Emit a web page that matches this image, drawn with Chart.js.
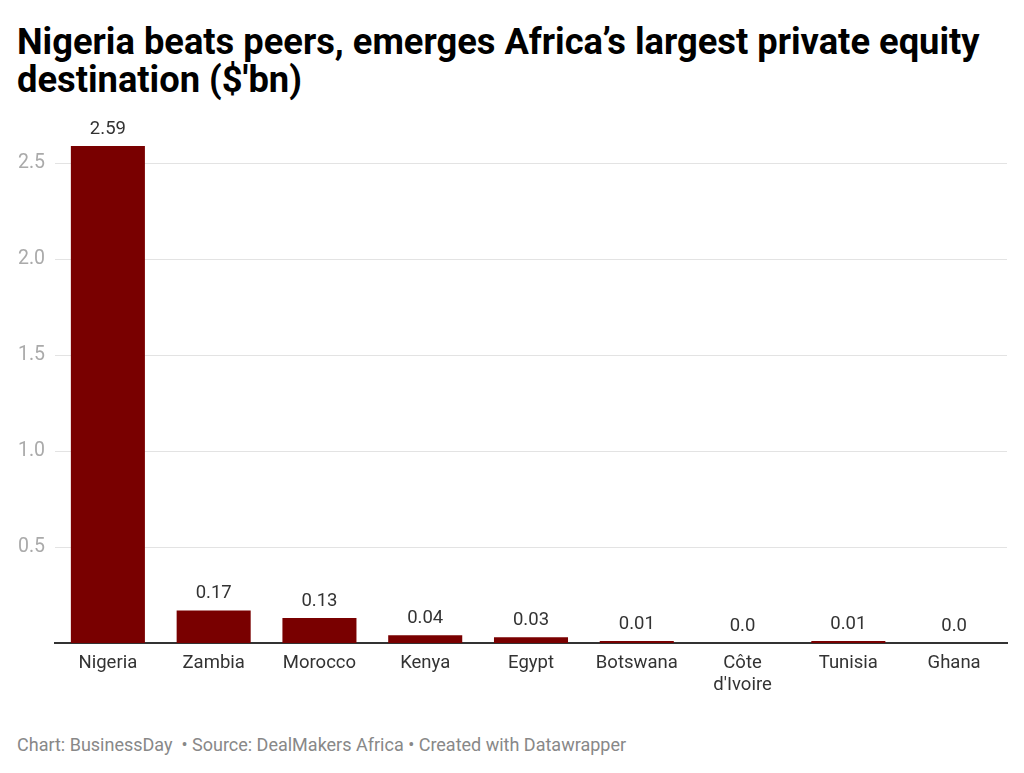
<!DOCTYPE html>
<html>
<head>
<meta charset="utf-8">
<script src="https://cdn.jsdelivr.net/npm/chart.js@4"></script>
<style>
  body { margin: 0; background: #fff; font-family: Roboto, sans-serif; }
  #title { position: absolute; left: 17px; top: 23px; font-size: 36.3px; font-weight: 700; line-height: 38px; color: #000; }
  #wrap { position: absolute; left: 0; top: 110px; width: 1024px; height: 590px; }
  #foot { position: absolute; left: 17px; top: 734px; font-size: 18px; color: #888; }
</style>
</head>
<body>
<div id="title">Nigeria beats peers, emerges Africa’s largest private equity<br>destination ($'bn)</div>
<div id="wrap"><canvas id="pe-chart"></canvas></div>
<div id="foot">Chart: BusinessDay &nbsp;• Source: DealMakers Africa • Created with Datawrapper</div>
<script>
// PE deal value by country, $bn
let countries = ['Nigeria', 'Zambia', 'Morocco', 'Kenya', 'Egypt', 'Botswana', ['Côte', "d'Ivoire"], 'Tunisia', 'Ghana'];
let values = [2.59, 0.17, 0.13, 0.04, 0.03, 0.01, 0.0, 0.01, 0.0];
let valueLabels = ['2.59', '0.17', '0.13', '0.04', '0.03', '0.01', '0.0', '0.01', '0.0'];
let yTicks = [0.5, 1.0, 1.5, 2.0, 2.5];

// draws the numbers above the bars
const barLabels = {
    id: 'barLabels',
    afterDatasetsDraw(chart) {
        let ctx = chart.ctx;
        let meta = chart.getDatasetMeta(0);
        ctx.save();
        ctx.font = '18.5px Roboto';
        ctx.fillStyle = '#333';
        ctx.textAlign = 'center';
        ctx.textBaseline = 'alphabetic';
        meta.data.forEach((bar, i) => {
            ctx.fillText(valueLabels[i], bar.x, bar.y - 12);
        });
        ctx.restore();
    }
};

let peChart = new Chart(document.getElementById('pe-chart'), {
    type: 'bar',
    data: {
        labels: countries,
        datasets: [{
            data: values,
            backgroundColor: '#790000',
            categoryPercentage: 0.7,
            barPercentage: 1.0
        }]
    },
    options: {
        responsive: true,
        maintainAspectRatio: false,
        animation: false,
        layout: { padding: { top: 8, right: 17, left: 0, bottom: 0 } },
        scales: {
            x: {
                grid: { display: false },
                border: { display: true, color: '#333', width: 2 },
                ticks: { color: '#333', font: { family: 'Roboto', size: 18.5 }, padding: 1, maxRotation: 0 },
                afterFit: axis => { axis.height = 57; }
            },
            y: {
                min: 0,
                max: 2.665,
                grid: { color: '#e3e3e3', drawTicks: false },
                border: { display: false },
                ticks: {
                    color: '#aaa',
                    font: { family: 'Roboto', size: 19.5 },
                    padding: 10,
                    callback: v => v.toFixed(1)
                },
                afterBuildTicks: axis => { axis.ticks = yTicks.map(v => ({ value: v })); },
                afterFit: axis => { axis.width = 55; }
            }
        },
        plugins: {
            legend: { display: false },
            tooltip: { enabled: false }
        }
    },
    plugins: [barLabels]
});
</script>
</body>
</html>
